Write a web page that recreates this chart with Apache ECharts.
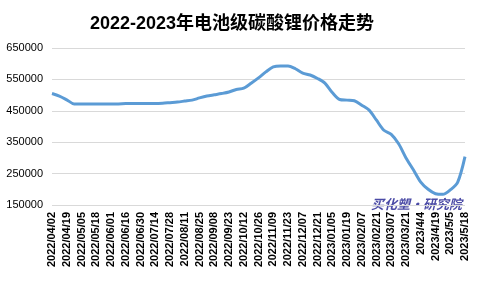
<!DOCTYPE html>
<html><head><meta charset="utf-8">
<script src="https://cdn.jsdelivr.net/npm/echarts@6/dist/echarts.min.js"></script>
<style>html,body{margin:0;padding:0;background:#fff}#c{width:478px;height:286px}</style>
</head><body><div id="c"></div>
<script>
var titleText = '2022-2023年电池级碳酸锂价格走势';
var dates = [
 '2022/04/02','2022/04/11','2022/04/19','2022/04/27','2022/05/05','2022/05/11','2022/05/18','2022/05/25',
 '2022/06/01','2022/06/09','2022/06/16','2022/06/23','2022/06/30','2022/07/07','2022/07/14','2022/07/21',
 '2022/07/28','2022/08/04','2022/08/11','2022/08/18','2022/08/25','2022/09/01','2022/09/08','2022/09/15',
 '2022/09/23','2022/09/30','2022/10/12','2022/10/19','2022/10/26','2022/11/02','2022/11/09','2022/11/16',
 '2022/11/23','2022/11/30','2022/12/07','2022/12/14','2022/12/21','2022/12/28','2023/01/05','2023/01/12',
 '2023/01/19','2023/01/31','2023/02/07','2023/02/14','2023/02/21','2023/02/28','2023/03/07','2023/03/14',
 '2023/03/21','2023/3/28','2023/4/4','2023/4/11','2023/4/19','2023/4/26','2023/5/5','2023/5/11','2023/5/18'
];
var prices = [
 505000,497000,485000,472000,472000,472000,472000,472000,
 472000,472000,473000,473000,473000,473000,473000,474000,
 476000,478000,481000,484000,491000,497000,501000,505000,
 510000,518000,522000,538000,555000,574000,590000,593000,
 593000,584000,570000,564000,553000,538000,508000,486000,
 484000,482000,468000,452000,420000,388000,375000,345000,
 300000,262000,223000,200000,186000,184000,198000,222000,304000
];
var yMin = 150000, yMax = 650000, yStep = 100000;
var watermark = '买化塑·研究院';

var chart = echarts.init(document.getElementById('c'));
chart.setOption({
  backgroundColor: '#fff',
  animation: false,
  title: {
    text: titleText, left: 85, top: 10,
    textStyle: {fontSize: 18, fontWeight: 'bold', color: '#000', fontFamily: 'Liberation Sans, Noto Sans CJK SC'}
  },
  grid: {left: 52, right: 13, top: 48, bottom: 81},
  xAxis: {
    type: 'category', data: dates, boundaryGap: false,
    axisLine: {show: false}, axisTick: {show: false},
    axisLabel: {interval: 1, rotate: 90, margin: 7, fontSize: 11, fontWeight: 'bold', color: '#000', fontFamily: 'Liberation Sans'}
  },
  yAxis: {
    type: 'value', min: yMin, max: yMax, interval: yStep,
    axisLine: {show: false}, axisTick: {show: false},
    axisLabel: {fontSize: 11, color: '#000', margin: 9, fontFamily: 'Liberation Sans', formatter: function (v) { return String(v); }},
    splitLine: {lineStyle: {color: '#d9d9d9', width: 1}}
  },
  series: [{
    type: 'line', data: prices, showSymbol: false, smooth: 0.3,
    lineStyle: {color: '#5b9bd5', width: 3}
  }],
  graphic: [{
    type: 'text', right: 16, top: 198,
    style: {text: watermark, fill: '#4b4ba6', font: 'italic bold 13px Noto Sans CJK SC'}
  }]
});
</script></body></html>
